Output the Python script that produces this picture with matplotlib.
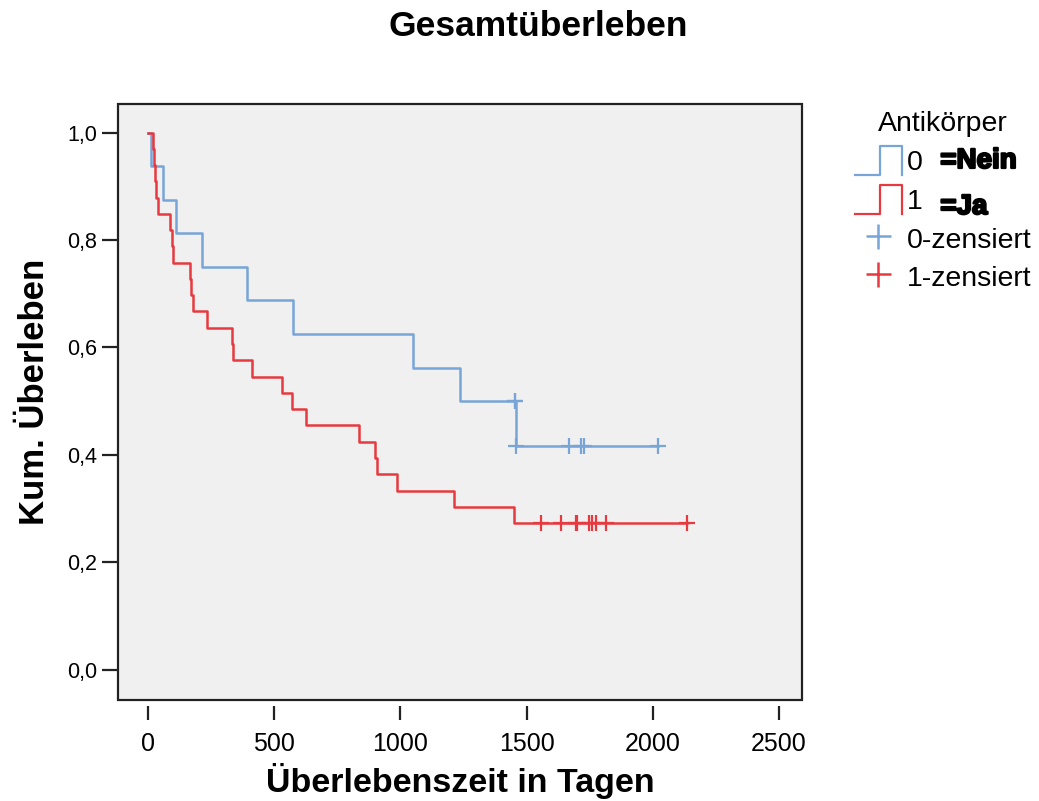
import matplotlib
matplotlib.use("Agg")
import matplotlib.pyplot as plt
import matplotlib.patheffects as pe
import numpy as np
from matplotlib.lines import Line2D
from matplotlib.patches import Rectangle
from matplotlib.legend_handler import HandlerBase

plt.rcParams['font.family'] = ['Liberation Sans', 'DejaVu Sans']

# group 0 (Antikörper = Nein)
t0_events = [12, 61, 110, 213, 391, 573, 1048, 1236, 1457]
s0_events = [0.9375, 0.875, 0.8125, 0.75, 0.6875, 0.625, 0.5625, 0.5, 0.4167]
t0_cens = [1454, 1454, 1457, 1669, 1714, 1727, 2022]

# group 1 (Antikörper = Ja)
t1_events = [18, 24, 28, 32, 41, 87, 93, 98, 166, 172, 179, 232, 332, 338,
             411, 530, 569, 624, 836, 899, 909, 988, 1212, 1449]
s1_events = [0.970, 0.939, 0.909, 0.879, 0.848, 0.818, 0.788, 0.758, 0.727,
             0.697, 0.667, 0.636, 0.606, 0.576, 0.545, 0.515, 0.485, 0.455,
             0.424, 0.394, 0.364, 0.333, 0.303, 0.273]
t1_cens = [1556, 1635, 1696, 1701, 1749, 1758, 1775, 1815, 2137]

x_ticks = [0, 500, 1000, 1500, 2000, 2500]
y_ticks = [0.0, 0.2, 0.4, 0.6, 0.8, 1.0]
y_tick_labels = ["0,0", "0,2", "0,4", "0,6", "0,8", "1,0"]

c0 = "#78a5d7"
c1 = "#e63a40"


class StepHandler(HandlerBase):
    def create_artists(self, legend, orig_handle, xdescent, ydescent,
                       width, height, fontsize, trans):
        x0 = -xdescent
        y0 = -ydescent
        xs = [x0, x0 + width * 0.55, x0 + width * 0.55, x0 + width, x0 + width]
        ys = [y0, y0, y0 + height, y0 + height, y0]
        line = Line2D(xs, ys, color=orig_handle.get_color(), lw=1.6)
        line.set_transform(trans)
        return [line]


def km_curve(t_ev, s_ev, t_c):
    t = np.concatenate([[0], t_ev, [max(t_c)]])
    s = np.concatenate([[1.0], s_ev, [s_ev[-1]]])
    idx = np.searchsorted(t_ev, t_c, side="right") - 1
    cy = np.where(idx >= 0, np.array(s_ev)[np.clip(idx, 0, None)], 1.0)
    return t, s, cy


fig = plt.figure(figsize=(10.39, 8.01), dpi=100)
ax = fig.add_axes([0.1136, 0.1261, 0.6583, 0.744])
ax.set_facecolor("#f0f0f0")

for t_ev, s_ev, t_c, col in [(t0_events, s0_events, t0_cens, c0),
                             (t1_events, s1_events, t1_cens, c1)]:
    t, s, cy = km_curve(t_ev, s_ev, t_c)
    ax.step(t, s, where="post", color=col, lw=1.8)
    ax.plot(t_c, cy, ls="none", marker="+", ms=11, mew=1.6, color=col)

ax.set_xlim(-119, 2591)
ax.set_ylim(-0.056, 1.053)

for sp in ax.spines.values():
    sp.set_visible(False)
ax.spines['bottom'].set_position(('outward', 4))
ax.spines['left'].set_position(('outward', 1))
ax.add_patch(Rectangle((0, 0), 1, 1, transform=ax.transAxes, fill=False,
                       edgecolor="#222222", lw=1.6, clip_on=False, zorder=5))

ax.set_xticks(x_ticks)
ax.set_yticks(y_ticks)
ax.set_yticklabels(y_tick_labels)
ax.tick_params(axis="x", length=10, width=1.6, color="#222222", labelsize=18, pad=9)
ax.tick_params(axis="y", length=11, width=1.6, color="#222222", labelsize=15.5, pad=3)

ax.set_xlabel("Überlebenszeit in Tagen", fontsize=24.5, fontweight="bold", labelpad=5)
ax.set_ylabel("Kum. Überleben", fontsize=25, fontweight="bold", labelpad=11.5)
ax.yaxis.label.set_y(0.517)
fig.suptitle("Gesamtüberleben", fontsize=25.5, fontweight="bold", x=0.518, y=0.988)

handles = [Line2D([], [], color=c0), Line2D([], [], color=c1),
           Line2D([], [], ls="none", marker="+", ms=18, mew=1.8, color=c0),
           Line2D([], [], ls="none", marker="+", ms=18, mew=1.8, color=c1)]
labels = ["0", "1", "0-zensiert", "1-zensiert"]
fig.legend(handles, labels, title="Antikörper", loc="upper left",
           bbox_to_anchor=(0.817, 0.868), frameon=False, fontsize=20.5,
           title_fontsize=20.5,
           handler_map={handles[0]: StepHandler(), handles[1]: StepHandler()},
           handlelength=1.65, handleheight=1.2, handletextpad=0.2,
           labelspacing=0.3, borderaxespad=0, borderpad=0.2)

fx = pe.withStroke(linewidth=1.6, foreground="black")
fig.text(0.905, 1 - 161 / 801, "=Nein", fontsize=20, fontweight="bold",
         va="center", ha="left", path_effects=[fx])
fig.text(0.905, 1 - 207 / 801, "=Ja", fontsize=20, fontweight="bold",
         va="center", ha="left", path_effects=[fx])

fig.savefig("out.png", dpi=100)
